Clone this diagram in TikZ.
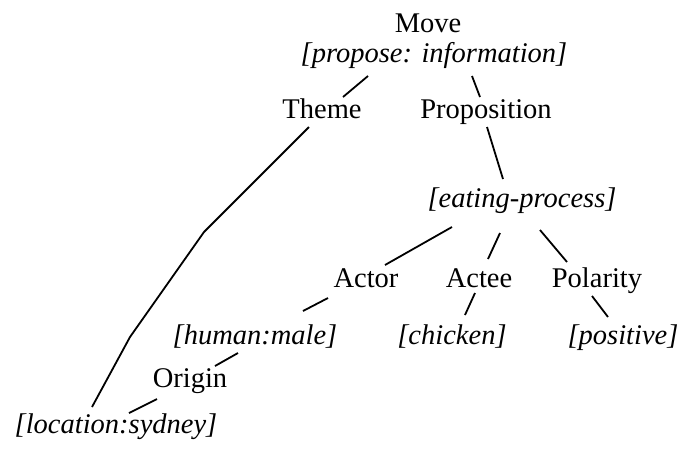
\documentclass[tikz,border=0pt]{standalone}
\usepackage{fontspec}
\setmainfont{Liberation Serif}
\usetikzlibrary{calc}
\tikzset{word/.style={anchor=base, inner sep=0pt, font=\fontsize{28.5}{34}\selectfont},
    feat/.style={word, font=\fontsize{28.5}{34}\selectfont\itshape},
    link/.style={line width=1.8pt}
}

\begin{document}
\begin{tikzpicture}[x=1pt,y=-1pt]
      \useasboundingbox (0,0) rectangle (680,448);
      % nodes
      \node[word] (move) at (428,32) {Move};
      \node[feat] (info) at (434,62) {[propose: information]};
      \node[word] (theme) at (322,118) {Theme};
      \node[word] (prop) at (486,118) {Proposition};
      \node[feat] (eat) at (522,207) {[eating-process]};
      \node[word] (actor) at (366,287) {Actor};
      \node[word] (actee) at (479,287) {Actee};
      \node[word] (pol) at (597,287) {Polarity};
      \node[feat] (human) at (255,344) {[human:male]};
      \node[feat] (chicken) at (452,344) {[chicken]};
      \node[feat] (positive) at (623,344) {[positive]};
      \node[word] (origin) at (190,387) {Origin};
      \node[feat] (loc) at (116,433) {[location:sydney]};
      %edges
      \draw[link] ($(info.base)+(-66,14)$) -- ($(theme.base)+(21,-21)$);
      \draw[link] ($(info.base)+(38,14)$) -- ($(prop.base)+(-6,-21)$);
      \draw[link] ($(theme.base)+(-13,9)$) -- (204,232) -- (130,337) -- ($(loc.base)+(-24,-26)$);
      \draw[link] ($(prop.base)+(1,9)$) -- ($(eat.base)+(-19,-28)$);
      \draw[link] ($(eat.base)+(-70,20)$) -- ($(actor.base)+(19,-22)$);
      \draw[link] ($(eat.base)+(-22,26)$) -- ($(actee.base)+(9,-28)$);
      \draw[link] ($(eat.base)+(18,23)$) -- ($(pol.base)+(-30,-25)$);
      \draw[link] ($(actor.base)+(-38,11)$) -- ($(human.base)+(48,-33)$);
      \draw[link] ($(actee.base)+(-4,6)$) -- ($(chicken.base)+(13,-29)$);
      \draw[link] ($(pol.base)+(-5,9)$) -- ($(positive.base)+(-15,-27)$);
      \draw[link] ($(human.base)+(-17,9)$) -- ($(origin.base)+(25,-21)$);
      \draw[link] ($(origin.base)+(-33,12)$) -- ($(loc.base)+(13,-20)$);
\end{tikzpicture}
\end{document}
